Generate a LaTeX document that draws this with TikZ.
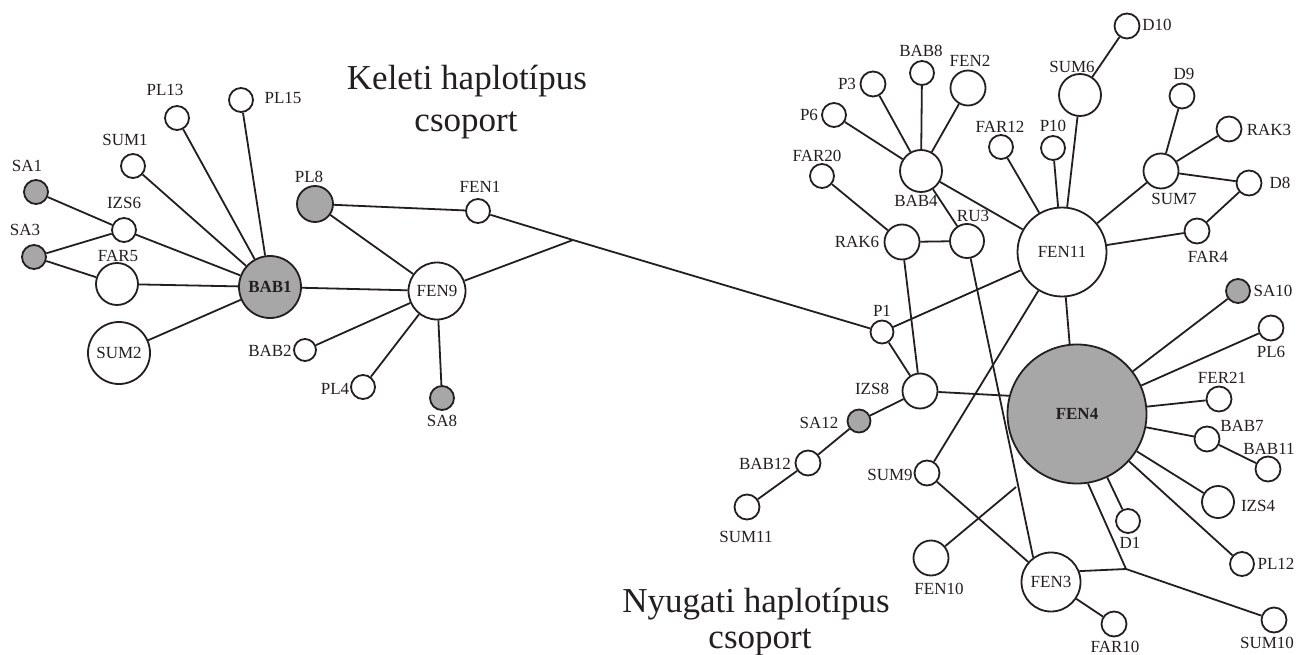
\documentclass[tikz,border=0pt]{standalone}
\usepackage{fontspec}
\setmainfont{Liberation Serif}
\definecolor{hapgray}{RGB}{167,167,167}
\definecolor{ink}{RGB}{35,31,32}
\begin{document}
\begin{tikzpicture}[x=1pt,y=-1pt,
  hap/.style={circle,draw=ink,line width=1.8pt,fill=white,inner sep=0pt,minimum size=#1,text=ink,font=\fontsize{17}{17}\selectfont},
  haps/.style={hap=#1,fill=hapgray},
  lab/.style={inner sep=0pt,text=ink,font=\fontsize{17}{17}\selectfont},
  edge/.style={line width=1.8pt,draw=ink},
  ttl/.style={inner sep=0pt,anchor=base,text=ink,font=\fontsize{35}{35}\selectfont}]
\useasboundingbox[fill=white] (0,0) rectangle (1308,655);
% titles
\node[ttl] (t1) at (467,90) {Keleti haplotípus};
\node[ttl] (t2) at (466,132) {csoport};
\node[ttl] (t3) at (756,612) {Nyugati haplotípus};
\node[ttl] (t4) at (760,648) {csoport};
% left cluster
\node[haps=24] (SA1) at (36,192) {};
\node[haps=24] (SA3) at (34,257) {};
\node[hap=24] (IZS6) at (124,230) {};
\node[hap=42] (FAR5) at (117,284) {};
\node[hap=62] (SUM2) at (119,353) {SUM2};
\node[haps=62,font=\fontsize{17}{17}\selectfont\bfseries] (BAB1) at (270,287) {BAB1};
\node[hap=24] (SUM1) at (133,166) {};
\node[hap=24] (PL13) at (177,118) {};
\node[hap=24] (PL15) at (241,100) {};
\node[haps=36] (PL8) at (315,204) {};
\node[hap=22] (BAB2) at (305,350) {};
\node[hap=57] (FEN9) at (437,291) {FEN9};
\node[hap=24] (FEN1) at (478,211) {};
\node[hap=24] (PL4) at (363,387) {};
\node[haps=24] (SA8) at (442,398) {};
\coordinate (J1) at (573,240);
% right cluster
\node[hap=23] (P1) at (882,332) {};
\node[hap=35] (IZS8) at (920,391) {};
\node[haps=23] (SA12) at (859,421) {};
\node[hap=25] (BAB12) at (808,463) {};
\node[hap=25] (SUM11) at (747,507) {};
\node[hap=25] (SUM9) at (927,473) {};
\node[hap=35] (FEN10) at (931,558) {};
\node[hap=35] (RAK6) at (902,242) {};
\node[hap=34] (RU3) at (967,241) {};
\node[hap=24] (FAR20) at (822,176) {};
\node[hap=42] (BAB4) at (921,171) {};
\node[hap=24] (P6) at (834,115) {};
\node[hap=25] (P3) at (873,84) {};
\node[hap=24] (BAB8) at (922,73) {};
\node[hap=35] (FEN2) at (968,88) {};
\node[hap=24] (FAR12) at (1001,147) {};
\node[hap=24] (P10) at (1053,148) {};
\node[hap=89] (FEN11) at (1062,252) {FEN11};
\node[hap=42] (SUM6) at (1080,95) {};
\node[hap=25] (D10) at (1127,26) {};
\node[hap=35] (SUM7) at (1161,171) {};
\node[hap=25] (D9) at (1182,96) {};
\node[hap=25] (RAK3) at (1229,129) {};
\node[hap=25] (D8) at (1249,183) {};
\node[hap=25] (FAR4) at (1197,231) {};
\node[haps=139,font=\fontsize{17}{17}\selectfont\bfseries] (FEN4) at (1077,414) {FEN4};
\node[haps=24] (SA10) at (1238,291) {};
\node[hap=25] (PL6) at (1271,328) {};
\node[hap=25] (FER21) at (1219,399) {};
\node[hap=25] (BAB7) at (1207,439) {};
\node[hap=25] (BAB11) at (1268,469) {};
\node[hap=32] (IZS4) at (1218,502) {};
\node[hap=24] (D1) at (1128,521) {};
\node[hap=24] (PL12) at (1242,564) {};
\node[hap=25] (SUM10) at (1274,620) {};
\node[hap=25] (FAR10) at (1114,624) {};
\node[hap=59] (FEN3) at (1051,582) {FEN3};
\coordinate (J2) at (1016,487);
\coordinate (J3) at (1126,569);
% edges left
\draw[edge] (SA1) -- (IZS6);
\draw[edge] (SA3) -- (IZS6);
\draw[edge] (SA3) -- (FAR5);
\draw[edge] (IZS6) -- (BAB1);
\draw[edge] (FAR5) -- (BAB1);
\draw[edge] (SUM2) -- (BAB1);
\draw[edge] (SUM1) -- (BAB1);
\draw[edge] (PL13) -- (BAB1);
\draw[edge] (PL15) -- (BAB1);
\draw[edge] (BAB1) -- (FEN9);
\draw[edge] (PL8) -- (FEN9);
\draw[edge] (PL8) -- (FEN1);
\draw[edge] (BAB2) -- (FEN9);
\draw[edge] (PL4) -- (FEN9);
\draw[edge] (SA8) -- (FEN9);
\draw[edge] (FEN9) -- (J1);
\draw[edge] (FEN1) -- (J1) -- (P1);
% edges right
\draw[edge] (P1) -- (FEN11);
\draw[edge] (P1) -- (IZS8);
\draw[edge] (RAK6) -- (IZS8);
\draw[edge] (IZS8) -- (FEN4.165);
\draw[edge] (IZS8) -- (SA12);
\draw[edge] (SA12) -- (BAB12);
\draw[edge] (BAB12) -- (SUM11);
\draw[edge] (FAR20) -- (RAK6);
\draw[edge] (RAK6) -- (RU3);
\draw[edge] (BAB4) -- (RU3);
\draw[edge] (BAB4) -- (P6);
\draw[edge] (BAB4) -- (P3);
\draw[edge] (BAB4) -- (BAB8);
\draw[edge] (BAB4) -- (FEN2);
\draw[edge] (BAB4) -- (FEN11);
\draw[edge] (FAR12) -- (FEN11);
\draw[edge] (P10) -- (FEN11);
\draw[edge] (SUM6) -- (FEN11);
\draw[edge] (SUM6) -- (D10);
\draw[edge] (SUM7) -- (FEN11);
\draw[edge] (SUM7) -- (D9);
\draw[edge] (SUM7) -- (RAK3);
\draw[edge] (SUM7) -- (D8);
\draw[edge] (D8) -- (FAR4);
\draw[edge] (FAR4) -- (FEN11);
\draw[edge] (FEN11) -- (FEN4.96);
\draw[edge] (SUM9) -- (FEN11);
\draw[edge] (SUM9) -- (FEN3);
\draw[edge] (RU3) -- (FEN3.126);
\draw[edge] (FEN10) -- (J2);
\draw[edge] (FEN4) -- (SA10);
\draw[edge] (FEN4) -- (PL6);
\draw[edge] (FEN4) -- (FER21);
\draw[edge] (FEN4) -- (BAB7);
\draw[edge] (BAB7) -- (BAB11);
\draw[edge] (FEN4) -- (IZS4);
\draw[edge] (FEN4) -- (D1);
\draw[edge] (FEN4) -- (PL12);
\draw[edge] (FEN4.-81) -- (J3);
\draw[edge] (FEN3.21) -- (J3);
\draw[edge] (J3) -- (SUM10);
\draw[edge] (FEN3) -- (FAR10);
% labels
\node[lab] (lSA1) at (27,166) {SA1};
\node[lab] (lSA3) at (25,230) {SA3};
\node[lab] (lIZS6) at (124,203) {IZS6};
\node[lab] (lFAR5) at (118,256) {FAR5};
\node[lab] (lSUM1) at (125,140) {SUM1};
\node[lab] (lPL13) at (165,90) {PL13};
\node[lab] (lPL15) at (283,98) {PL15};
\node[lab] (lPL8) at (309,177) {PL8};
\node[lab] (lBAB2) at (270,351) {BAB2};
\node[lab] (lFEN1) at (480,187) {FEN1};
\node[lab] (lPL4) at (335,389) {PL4};
\node[lab] (lSA8) at (442,421) {SA8};
\node[lab] (lP1) at (882,311) {P1};
\node[lab] (lIZS8) at (872,389) {IZS8};
\node[lab] (lSA12) at (819,423) {SA12};
\node[lab] (lBAB12) at (765,464) {BAB12};
\node[lab] (lSUM11) at (746,537) {SUM11};
\node[lab] (lSUM9) at (890,475) {SUM9};
\node[lab] (lFEN10) at (939,589) {FEN10};
\node[lab] (lRAK6) at (857,242) {RAK6};
\node[lab] (lRU3) at (973,216) {RU3};
\node[lab] (lFAR20) at (817,156) {FAR20};
\node[lab] (lBAB4) at (916,201) {BAB4};
\node[lab] (lP6) at (809,115) {P6};
\node[lab] (lP3) at (847,84) {P3};
\node[lab] (lBAB8) at (921,51) {BAB8};
\node[lab] (lFEN2) at (970,61) {FEN2};
\node[lab] (lFAR12) at (1000,127) {FAR12};
\node[lab] (lP10) at (1053,126) {P10};
\node[lab] (lSUM6) at (1072,67) {SUM6};
\node[lab] (lD10) at (1157,25) {D10};
\node[lab] (lD9) at (1184,74) {D9};
\node[lab] (lRAK3) at (1269,130) {RAK3};
\node[lab] (lD8) at (1280,183) {D8};
\node[lab] (lSUM7) at (1174,199) {SUM7};
\node[lab] (lFAR4) at (1208,257) {FAR4};
\node[lab] (lSA10) at (1273,291) {SA10};
\node[lab] (lPL6) at (1271,352) {PL6};
\node[lab] (lFER21) at (1222,378) {FER21};
\node[lab] (lBAB7) at (1242,426) {BAB7};
\node[lab] (lBAB11) at (1269,449) {BAB11};
\node[lab] (lIZS4) at (1258,506) {IZS4};
\node[lab] (lD1) at (1130,543) {D1};
\node[lab] (lPL12) at (1276,564) {PL12};
\node[lab] (lSUM10) at (1267,643) {SUM10};
\node[lab] (lFAR10) at (1115,647) {FAR10};
\end{tikzpicture}
\end{document}
